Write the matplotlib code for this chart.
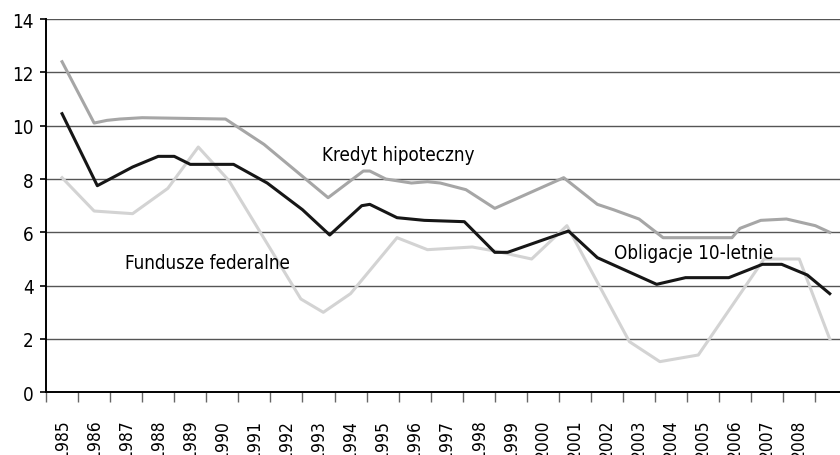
import os
import matplotlib
matplotlib.use("Agg")
import matplotlib.pyplot as plt
from matplotlib import font_manager

# kredyt hipoteczny (mortgage rate)
mort_x = [1985.0, 1986.0, 1986.4, 1986.8, 1987.5, 1990.1, 1991.3, 1993.3, 1994.4, 1994.6,
          1995.1, 1995.9, 1996.4, 1996.8, 1997.6, 1998.5, 2000.65, 2001.7, 2002.2, 2003.0,
          2003.75, 2005.9, 2006.15, 2006.8, 2007.6, 2008.5, 2008.95]
mort_y = [12.4, 10.1, 10.2, 10.25, 10.3, 10.25, 9.3, 7.3, 8.3, 8.3,
          8.0, 7.85, 7.9, 7.85, 7.6, 6.9, 8.05, 7.05, 6.85, 6.5,
          5.8, 5.8, 6.15, 6.45, 6.5, 6.25, 6.0]

# obligacje 10-letnie (10y bonds)
bond_x = [1985.0, 1986.1, 1987.2, 1988.0, 1988.5, 1989.0, 1990.35, 1991.4, 1992.5, 1993.35,
          1994.35, 1994.6, 1995.45, 1996.3, 1997.55, 1998.5, 1998.9, 2000.8, 2001.7, 2003.55,
          2004.45, 2005.8, 2006.85, 2007.45, 2008.25, 2008.95]
bond_y = [10.45, 7.75, 8.45, 8.85, 8.85, 8.55, 8.55, 7.85, 6.85, 5.9,
          7.0, 7.05, 6.55, 6.45, 6.4, 5.25, 5.25, 6.05, 5.05, 4.05,
          4.3, 4.3, 4.8, 4.8, 4.4, 3.7]

# fundusze federalne (fed funds)
fed_x = [1985.0, 1986.0, 1987.2, 1988.3, 1989.25, 1990.2, 1992.45, 1993.15, 1994.0, 1995.45,
         1996.4, 1997.8, 1998.5, 1999.65, 2000.75, 2002.7, 2003.65, 2004.85, 2006.9, 2008.0,
         2008.95]
fed_y = [8.05, 6.8, 6.7, 7.65, 9.2, 7.95, 3.5, 3.0, 3.7, 5.8,
         5.35, 5.45, 5.3, 5.0, 6.25, 1.9, 1.15, 1.4, 5.0, 5.0,
         2.0]

years = list(range(1985, 2009))

# look for a narrow/condensed face, the reference uses a condensed sans
wanted = ['liberationsansnarrow-regular', 'dejavusanscondensed.', 'notosans-condensed.',
          'robotocondensed-regular', 'opensans-condensedregular', 'opensans_condensed-regular']
path = None
files = [f.fname for f in font_manager.fontManager.ttflist]
for w in wanted:
    for fn in files:
        if os.path.basename(fn).lower().startswith(w):
            path = fn
            break
    if path:
        break

if path:
    fp = font_manager.FontProperties(fname=path, size=13.5)
    fp_x = font_manager.FontProperties(fname=path, size=12.5)
else:
    fp = font_manager.FontProperties(family='DejaVu Sans', size=11.5)
    fp_x = font_manager.FontProperties(family='DejaVu Sans', size=10.5)

fig = plt.figure(figsize=(8.4, 4.56), dpi=100)
ax = fig.add_axes([0.0548, 0.1375, 0.9452, 0.8185])

ax.plot(fed_x, fed_y, color='#d3d3d3', lw=2.2, zorder=3)
ax.plot(mort_x, mort_y, color='#a6a6a6', lw=2.2, zorder=4)
ax.plot(bond_x, bond_y, color='#161616', lw=2.2, zorder=5)

ax.set_ylim(0, 14)
ax.set_xlim(1984.5, 2009.27)
ax.set_yticks(range(0, 15, 2))
ax.set_yticklabels([str(v) for v in range(0, 15, 2)], fontproperties=fp)
ax.yaxis.grid(True, color='#555555', lw=1.0)
ax.set_axisbelow(True)

ax.set_xticks([y - 0.5 for y in years] + [2008.5])
ax.set_xticklabels([])
ax.set_xticks(years, minor=True)
ax.set_xticklabels([str(y) for y in years], minor=True, rotation=90, va='top',
                   fontproperties=fp_x)
ax.tick_params(axis='x', which='major', length=7, width=1.0, color='#666666')
ax.tick_params(axis='x', which='minor', length=0, pad=19)
ax.tick_params(axis='y', length=4, width=1.2, pad=5)

for s in ['top', 'right']:
    ax.spines[s].set_visible(False)
ax.spines['left'].set_linewidth(1.4)
ax.spines['bottom'].set_linewidth(1.4)

ax.text(1993.11, 8.92, 'Kredyt hipoteczny', fontproperties=fp, va='center')
ax.text(1986.96, 4.88, 'Fundusze federalne', fontproperties=fp, va='center')
ax.text(2002.22, 5.25, 'Obligacje 10-letnie', fontproperties=fp, va='center', zorder=6)

fig.savefig('out.png', dpi=100)
